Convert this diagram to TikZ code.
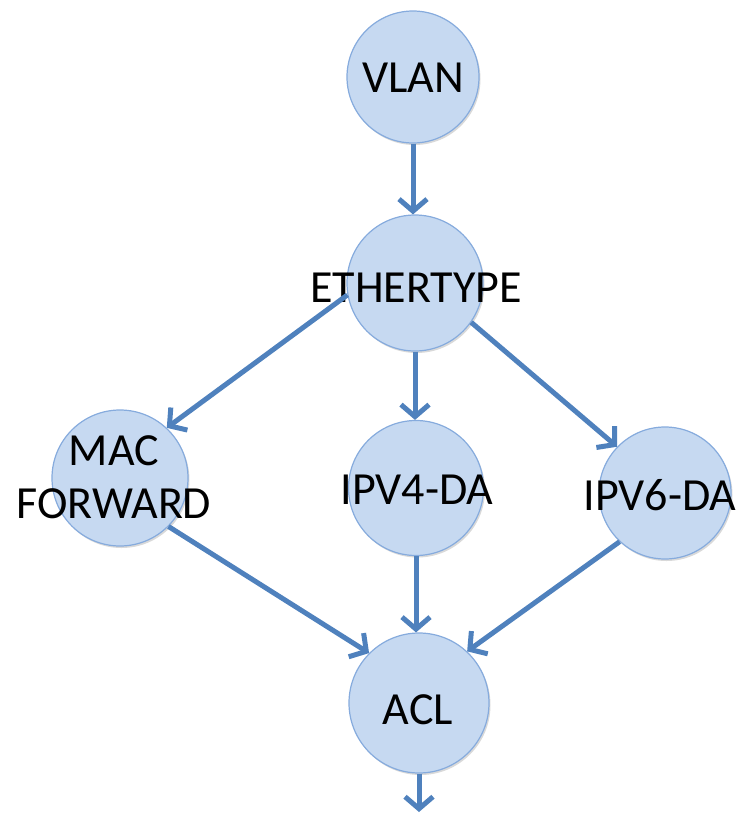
\documentclass[tikz,border=0pt]{standalone}
\usepackage{fontspec}
\setmainfont{Carlito}
\usetikzlibrary{arrows.meta,shadows}
\definecolor{cfill}{HTML}{C6D9F1}
\definecolor{cedge}{HTML}{86ABDD}
\definecolor{carrow}{HTML}{4F81BD}
\tikzset{
  circ/.style={circle, draw=cedge, line width=1.2pt, fill=cfill, inner sep=0pt,
    drop shadow={shadow xshift=1.5pt, shadow yshift=-2pt, opacity=0.25, fill=black!60}},
  lbl/.style={font=\fontsize{46}{53}\selectfont, align=center, inner sep=0pt, text=black},
  conn/.style={draw=carrow, line width=5pt, -{Straight Barb[length=12pt, width=28pt, line width=5pt]}}
}
\begin{document}
\begin{tikzpicture}[x=1pt, y=-1pt]
\useasboundingbox (0,0) rectangle (739,814);
\node[circ, minimum size=132pt] (vlan) at (413,77) {};
\node[circ, minimum size=136pt] (eth) at (415,283) {};
\node[circ, minimum size=136pt] (mac) at (120,478) {};
\node[circ, minimum size=135pt] (ipv4) at (416,488) {};
\node[circ, minimum size=132pt] (ipv6) at (665,493) {};
\node[circ, minimum size=140pt] (acl) at (419,703) {};
\coordinate (out) at (419,812);

\node[lbl] (tvlan) at (413,78) {VLAN};
\node[lbl] (teth) at (416,288) {ETHERTYPE};
\node[lbl] (tmac) at (114,477) {MAC\\FORWARD};
\node[lbl] (tipv4) at (417,490) {IPV4-DA};
\node[lbl] (tipv6) at (660,495) {IPV6-DA};
\node[lbl] (tacl) at (418,710) {ACL};

\draw[conn] (vlan.south) -- (vlan.south |- eth.north);
\draw[conn] (eth.190) -- (mac.47);
\draw[conn] (eth.south) -- (eth.south |- ipv4.north);
\draw[conn] (eth.-35) -- (ipv6.136);
\draw[conn] (mac.-45) -- (acl.135);
\draw[conn] (ipv4.south) -- (ipv4.south |- acl.north);
\draw[conn] (ipv6.227) -- (acl.47);
\draw[conn] (acl.south) -- (out);
\end{tikzpicture}
\end{document}
